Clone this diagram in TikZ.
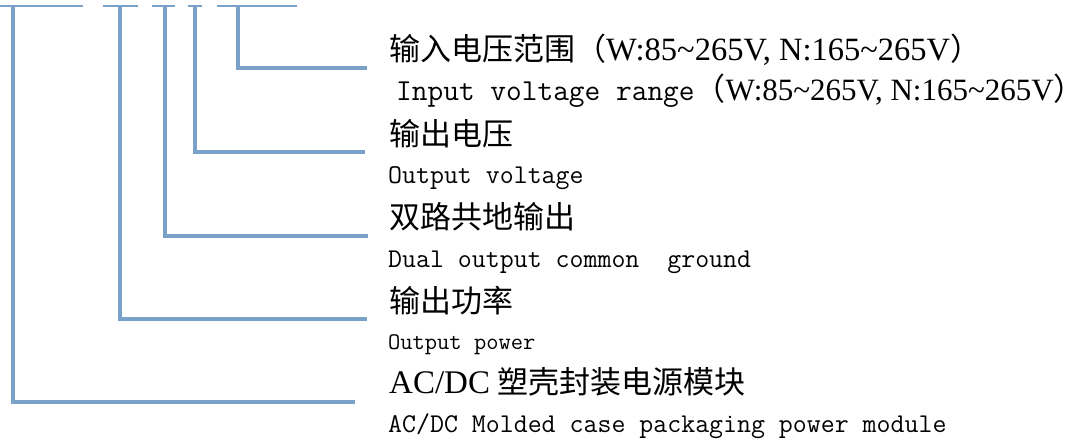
\documentclass[tikz,border=0pt]{standalone}
\usepackage{fontspec}
\setmainfont{Liberation Serif}
\newfontfamily\cjk{Noto Sans CJK SC}
\definecolor{lineblue}{RGB}{122,162,200}
\newcommand\voltrange[1]{{\rmfamily\fontsize{#1}{#1}\selectfont W:85\textasciitilde265V, N:165\textasciitilde265V}}
\newcommand\cjkp[1]{{\cjk\fontsize{31}{31}\selectfont #1}}
\tikzset{
  bl/.style={draw=lineblue, line width=3.5pt},
  seg/.style={draw=lineblue, line width=2.5pt},
  cn/.style={anchor=base west, inner sep=0pt, font=\cjk\fontsize{31}{31}\selectfont},
  en/.style={anchor=base west, inner sep=0pt, font=\ttfamily\fontsize{27.1}{27.1}\selectfont},
}
\begin{document}
\begin{tikzpicture}[x=1pt,y=-1pt]
\useasboundingbox (0,0) rectangle (1091,440);
% top underlines of the part number
\coordinate (s1a) at (0,6);   \coordinate (s1b) at (83,6);
\coordinate (s2a) at (103,6); \coordinate (s2b) at (138,6);
\coordinate (s3a) at (152,6); \coordinate (s3b) at (175,6);
\coordinate (s4a) at (188,6); \coordinate (s4b) at (202,6);
\coordinate (s5a) at (217,6); \coordinate (s5b) at (297,6);
\draw[seg] (s1a) -- (s1b);
\draw[seg] (s2a) -- (s2b);
\draw[seg] (s3a) -- (s3b);
\draw[seg] (s4a) -- (s4b);
\draw[seg] (s5a) -- (s5b);
% connectors
\coordinate (t1) at (13,6);  \coordinate (e1) at (355,402);
\coordinate (t2) at (120,6); \coordinate (e2) at (367,319);
\coordinate (t3) at (165,6); \coordinate (e3) at (368,236);
\coordinate (t4) at (195,6); \coordinate (e4) at (365,152);
\coordinate (t5) at (238,6); \coordinate (e5) at (367,68);
\draw[bl] (t1) |- (e1);
\draw[bl] (t2) |- (e2);
\draw[bl] (t3) |- (e3);
\draw[bl] (t4) |- (e4);
\draw[bl] (t5) |- (e5);
% labels
\node[cn] (l1) at (389,60) {输入电压范围（\voltrange{32.5}）};
\node[en, font=\ttfamily\fontsize{30.5}{30.5}\selectfont] (l2) at (396,100) {Input voltage range\cjkp{（}\voltrange{31}\cjkp{）}};
\node[cn] (l3) at (389,145) {输出电压};
\node[en] (l4) at (388,183) {Output voltage};
\node[cn] (l5) at (389,228) {双路共地输出};
\node[en] (l6) at (388,267) {Dual output common\ \ ground};
\node[cn] (l7) at (389,312) {输出功率};
\node[en, font=\ttfamily\fontsize{23.8}{23.8}\selectfont] (l8) at (388,349) {Output power};
\node[cn] (l9) at (389,393) {{\rmfamily\fontsize{33}{33}\selectfont AC/DC} 塑壳封装电源模块};
\node[en] (l10) at (388,432) {AC/DC Molded case packaging power module};
\end{tikzpicture}
\end{document}
